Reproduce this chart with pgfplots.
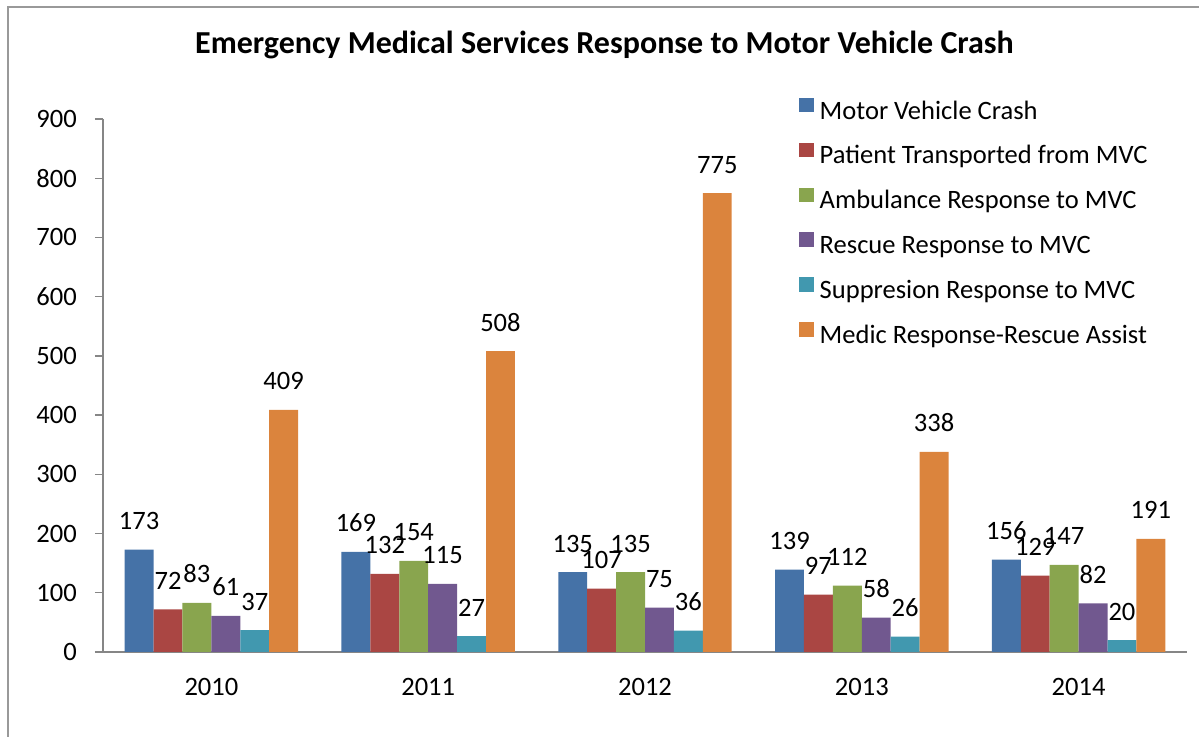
\documentclass[border=0pt]{standalone}
\usepackage{pgfplots}
\pgfplotsset{compat=1.18}
\usepackage{fontspec}
\setmainfont{Carlito}
\definecolor{c1}{HTML}{4572A7}
\definecolor{c2}{HTML}{AA4643}
\definecolor{c3}{HTML}{89A54E}
\definecolor{c4}{HTML}{71588F}
\definecolor{c5}{HTML}{4198AF}
\definecolor{c6}{HTML}{DB843D}
\definecolor{axgray}{HTML}{868686}
\pgfplotsset{/pgf/number format/assume math mode=true}
\newcommand{\lblfont}{\fontsize{19.9}{24}\selectfont}
\begin{document}
\begin{tikzpicture}
\path[use as bounding box] (0,0) rectangle (899.25pt,552.75pt);
\draw[color=gray!80, line width=1.5pt] (6pt,0) -- (6pt,547.5pt) -- (899.25pt,547.5pt);
\begin{axis}[
  at={(77.25pt,63.75pt)}, anchor=south west,
  scale only axis, width=813pt, height=399.75pt,
  xmin=-0.5, xmax=4.5, ymin=0, ymax=900,
  axis x line=bottom, axis y line=left,
  axis line style={-, color=axgray, line width=1pt},
  xtick={0,1,2,3,4}, xticklabels={2010,2011,2012,2013,2014},
  minor xtick={-0.5,0.5,1.5,2.5,3.5,4.5},
  xtick style={draw=none},
  minor x tick style={color=axgray, line width=1pt},
  ytick={0,100,...,900},
  y tick style={color=axgray, line width=1pt},
  tick align=outside, major tick length=6pt, minor tick length=6pt,
  ticklabel style={font=\lblfont},
  yticklabel style={inner sep=0pt, anchor=east, xshift=-13.5pt},
  xticklabel style={inner sep=0pt, anchor=north, yshift=-13.5pt},
  title={Emergency Medical Services Response to Motor Vehicle Crash},
  title style={at={(rel axis cs:0.4627,1.1088)}, anchor=base, yshift=0pt, inner sep=0pt, font=\bfseries\fontsize{24}{28}\selectfont},
  ybar, bar width=0.13333,
  nodes near coords,
  every node near coord/.append style={font=\lblfont, inner sep=0pt, anchor=base, yshift=15pt, color=black},
  legend style={at={(rel axis cs:0.6421,1.040)}, anchor=north west, draw=none, fill=none,
     inner sep=0pt, outer sep=0pt, column sep=4.5pt, row sep=12.7pt,
     nodes={inner sep=0pt, text height=15pt, text depth=5pt, font=\lblfont}},
  legend cell align=left,
  legend image code/.code={\fill[#1] (0pt,0pt) rectangle (11pt,11pt);},
  clip=false,
]
\addplot[fill=c1, draw=none, bar shift=-0.33333] coordinates {(0,173) (1,169) (2,135) (3,139) (4,156)};
\addplot[fill=c2, draw=none, bar shift=-0.2] coordinates {(0,72) (1,132) (2,107) (3,97) (4,129)};
\addplot[fill=c3, draw=none, bar shift=-0.066667] coordinates {(0,83) (1,154) (2,135) (3,112) (4,147)};
\addplot[fill=c4, draw=none, bar shift=0.066667] coordinates {(0,61) (1,115) (2,75) (3,58) (4,82)};
\addplot[fill=c5, draw=none, bar shift=0.2] coordinates {(0,37) (1,27) (2,36) (3,26) (4,20)};
\addplot[fill=c6, draw=none, bar shift=0.33333] coordinates {(0,409) (1,508) (2,775) (3,338) (4,191)};
\legend{Motor Vehicle Crash, Patient Transported from MVC, Ambulance Response to MVC, Rescue Response to MVC, Suppresion Response to MVC, Medic Response-Rescue Assist}
\end{axis}
\end{tikzpicture}
\end{document}
